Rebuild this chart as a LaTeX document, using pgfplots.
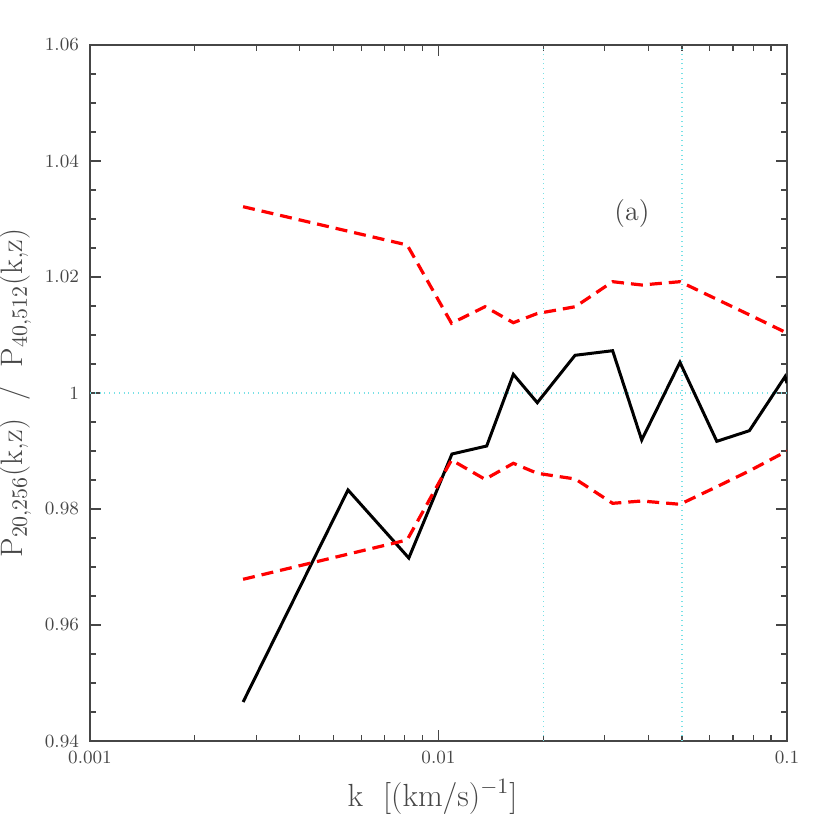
\documentclass[border=0pt]{standalone}
\usepackage{pgfplots}
\pgfplotsset{compat=1.18}
\definecolor{gridc}{RGB}{120,225,230}
\definecolor{axc}{RGB}{70,70,70}

\begin{document}
\begin{tikzpicture}
\path[use as bounding box] (-45pt,-44.5pt) rectangle (370pt,370.5pt);
\begin{axis}[
    at={(0,0)}, anchor=south west,
    scale only axis,
    width=348.5pt, height=348pt,
    xmode=log,
    xmin=0.001, xmax=0.1,
    ymin=0.94, ymax=1.06,
    axis line style={axc, line width=0.6pt},
    tick style={axc, line width=0.6pt},
    xtick={0.001,0.01,0.1},
    xticklabels={0.001,0.01,0.1},
    ytick={0.94,0.96,0.98,1,1.02,1.04,1.06},
    yticklabels={0.94,0.96,0.98,1,1.02,1.04,1.06},
    minor ytick={0.945,0.95,0.955,0.965,0.97,0.975,0.985,0.99,0.995,1.005,1.01,1.015,1.025,1.03,1.035,1.045,1.05,1.055},
    major tick length=5.3pt,
    minor tick length=3pt,
    tick align=inside,
    xtick pos=both, ytick pos=both,
    ticklabel style={font=\fontsize{9.3}{10}\selectfont, text=axc},
    xticklabel style={yshift=-1.5pt},
    yticklabel style={xshift=-2pt},
    extra x ticks={0.02,0.05},
    extra x tick labels={},
    extra y ticks={1},
    extra y tick labels={},
    extra tick style={grid=major, major tick length=0pt,
        grid style={gridc, dotted, line width=0.6pt}},
    xlabel={k\hspace{10pt}[(km/s)$^{-1}$]},
    ylabel={P$_{20,256}$(k,z)\ \ /\ \ P$_{40,512}$(k,z)},
    xlabel style={font=\fontsize{16}{18}\selectfont, text=axc, yshift=-1pt, xshift=-3pt},
    ylabel style={font=\fontsize{15.5}{17}\selectfont, text=axc},
    clip=true,
]
\addplot[black, line width=1.5pt] coordinates {
    (0.00275,0.94672) (0.0055,0.98328) (0.00822,0.97155) (0.01093,0.98948)
    (0.01375,0.99086) (0.0164,1.00322) (0.01921,0.99833) (0.02465,1.0065)
    (0.0316,1.00729) (0.0383,0.99190) (0.0493,1.00529) (0.0629,0.99167)
    (0.078,0.9935) (0.0987,1.00281) (0.1,1.0017)
};
\addplot[red, line width=1.6pt, dash pattern=on 6pt off 3.5pt] coordinates {
    (0.00275,1.03212) (0.00813,1.02552) (0.0109,1.01202) (0.0136,1.01488)
    (0.0164,1.01212) (0.0192,1.0137) (0.0247,1.01488) (0.0316,1.01919)
    (0.0383,1.01862) (0.0493,1.01919) (0.0629,1.01616) (0.078,1.01348)
    (0.1,1.01034)
};
\addplot[red, line width=1.6pt, dash pattern=on 6pt off 3.5pt] coordinates {
    (0.00275,0.96788) (0.00813,0.97466) (0.0109,0.98845) (0.0136,0.98512)
    (0.0164,0.98788) (0.0192,0.98616) (0.0247,0.98517) (0.0316,0.98098)
    (0.0383,0.98138) (0.0493,0.98081) (0.0629,0.98384) (0.078,0.98657)
    (0.1,0.99)
};
\node[text=axc, font=\fontsize{14}{16}\selectfont] at (axis cs:0.0359,1.031) {(a)};
\end{axis}
\end{tikzpicture}
\end{document}
